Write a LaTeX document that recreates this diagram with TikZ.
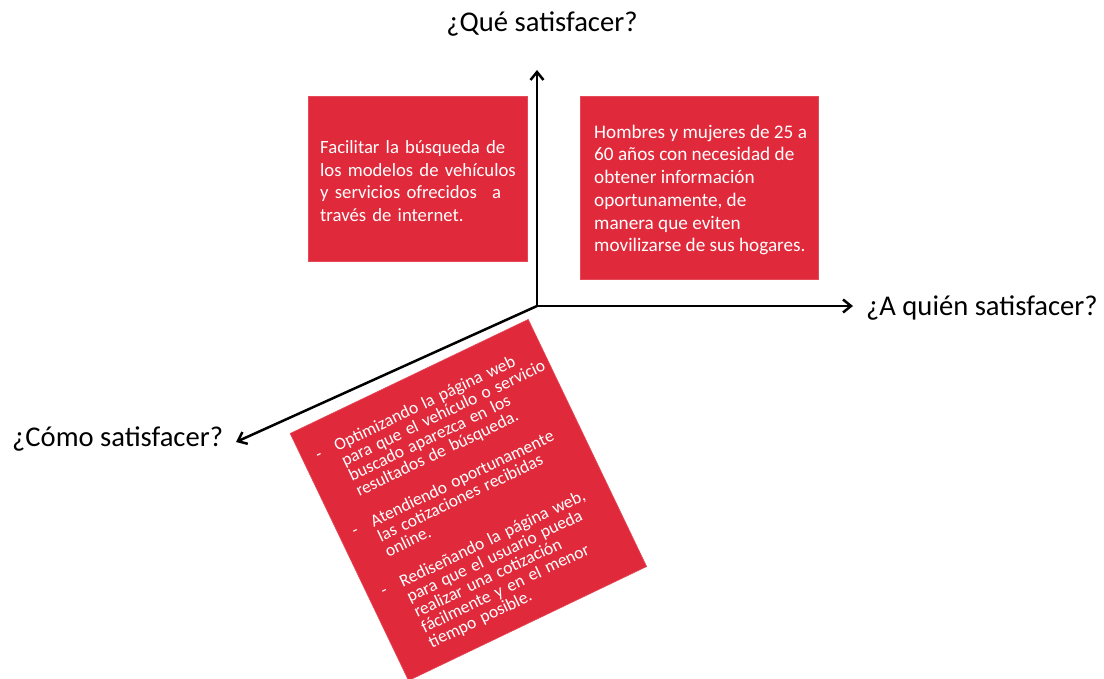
\documentclass[tikz,border=0pt]{standalone}
\usepackage{fontspec}
\setmainfont{Carlito}
\usetikzlibrary{arrows.meta}
\definecolor{boxred}{RGB}{224,41,58}
\newcommand{\dashitem}[1]{\makebox[21pt][l]{-}\mbox{#1}}
\newcommand{\contline}[1]{\hspace*{21pt}\mbox{#1}}
\begin{document}
\begin{tikzpicture}[x=1pt,y=-1pt,
  axis/.style={line width=2.5pt, -{Straight Barb[length=8pt,width=13pt]}},
  redbox/.style={fill=boxred, draw=boxred!85!white, line width=0.6pt, inner sep=0pt},
  boxtext/.style={text=white, inner sep=0pt, font=\fontsize{19.2}{22.7}\selectfont},
  listtext/.style={text=white, inner sep=0pt, font=\fontsize{17.5}{16.8}\selectfont},
  axlabel/.style={inner sep=0pt, font=\fontsize{28.6}{32}\selectfont}]
\useasboundingbox (0,0) rectangle (1104,678);

% axes
\coordinate (o) at (537,306);
\coordinate (qtop) at (537,70);
\coordinate (qright) at (853,306);
\coordinate (qleft) at (236,442);
\draw[axis] (o) -- (qtop);
\draw[axis] (o) -- (qright);
\draw[axis] (o) -- (qleft);

% axis labels
\node[axlabel, anchor=base] (lwhat) at (542,31) {¿Qué satisfacer?};
\node[axlabel, anchor=base west] (lwho) at (866,315) {¿A quién satisfacer?};
\node[axlabel, anchor=base west] (lhow) at (12,446) {¿Cómo satisfacer?};

% what to satisfy
\node[redbox, minimum width=219pt, minimum height=165pt] (what) at (417.5,178.5) {};
\node[boxtext, font=\fontsize{18.7}{22.7}\selectfont, anchor=west, text width=195pt, align=left] (whattext) at (320,181) {%
\makebox[195pt][s]{Facilitar la búsqueda de}\\
\makebox[195pt][s]{los modelos de vehículos}\\
\makebox[195pt][s]{y servicios ofrecidos\hspace{9pt} a}\\
través de internet.};

% whom to satisfy
\node[redbox, minimum width=238pt, minimum height=183pt] (who) at (699,187.5) {};
\node[boxtext, anchor=west, align=left] (whotext) at (594,190) {%
Hombres y mujeres de 25 a\\
60 años con necesidad de\\
obtener información\\
oportunamente, de\\
manera que eviten\\
movilizarse de sus hogares.};

% how to satisfy
\node[redbox, rotate=25.6, minimum width=264pt, minimum height=274pt] (how) at (468.4,500) {};
\node[listtext, rotate=25.6, xshift=2pt, yshift=-4pt, text width=240pt, align=left] (howtext) at (how.center) {%
\dashitem{Optimizando la página web}\\
\contline{para que el vehículo o servicio}\\
\contline{buscado aparezca en los}\\
\contline{resultados de búsqueda.}\\[16.8pt]
\dashitem{Atendiendo oportunamente}\\
\contline{las cotizaciones recibidas}\\
\contline{online.}\\[16.8pt]
\dashitem{Rediseñando la página web,}\\
\contline{para que el usuario pueda}\\
\contline{realizar una cotización}\\
\contline{fácilmente y en el menor}\\
\contline{tiempo posible.}};
\end{tikzpicture}
\end{document}
